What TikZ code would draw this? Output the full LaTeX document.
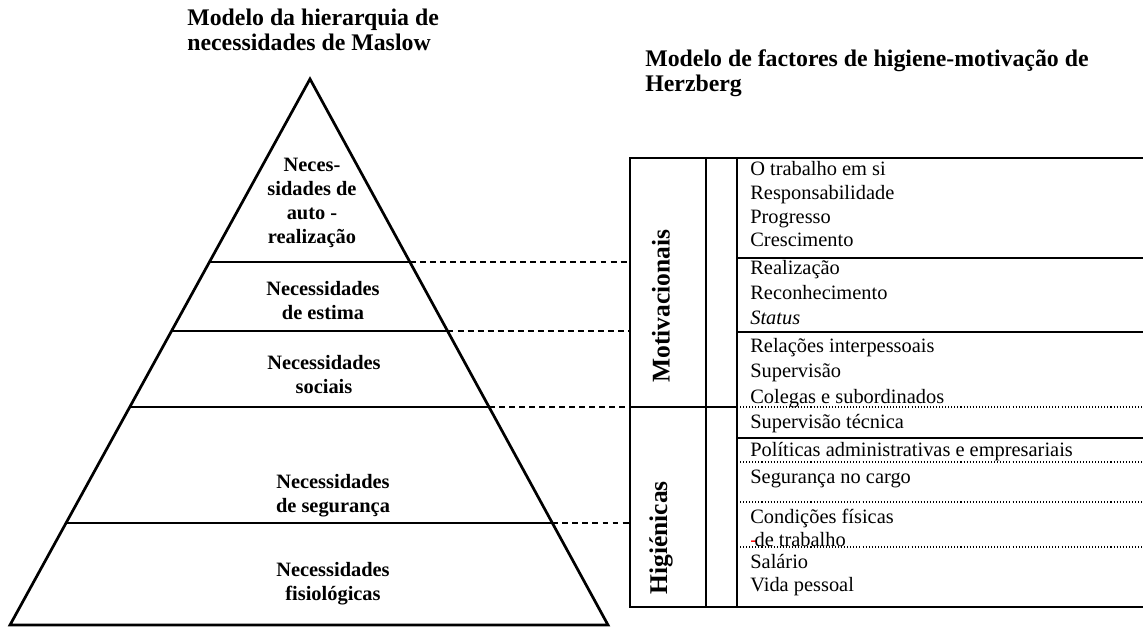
\documentclass[tikz,border=0pt]{standalone}
\usepackage{fontspec}
\setmainfont{Liberation Serif}
\usetikzlibrary{calc}

\newcommand*{\tabxl}{630}
\newcommand*{\tabxm}{706}
\newcommand*{\tabxi}{737}
\newcommand*{\tabxr}{1143}
\newcommand*{\tabyt}{158}
\newcommand*{\tabyb}{607}

\begin{document}
\begin{tikzpicture}[x=0.588pt,y=-0.588pt,
  every node/.style={inner sep=0pt,font=\fontsize{12}{14.1}\selectfont},
  title/.style={anchor=base west,align=left,font=\bfseries\fontsize{14}{14.7}\selectfont},
  level/.style={align=center,font=\bfseries\fontsize{12}{14.1}\selectfont},
  factor/.style={anchor=base west},
  side/.style={rotate=90,font=\bfseries\fontsize{15}{17}\selectfont},
  outline/.style={line width=1.6pt,line join=miter},
  layer/.style={line width=1.1pt},
  link/.style={line width=0.8pt,dash pattern=on 3.5pt off 2.4pt},
  frame/.style={line width=1.1pt},
  sep/.style={line width=0.6pt,dash pattern=on 0.6pt off 1.2pt}]

	\useasboundingbox (0,0) rectangle (1143,628);

	% titles
	\node[title] (maslow) at (187,51) {Modelo da hierarquia de\\necessidades de Maslow};
	\node[title] (herzberg) at (645,92) {Modelo de factores de higiene-motivação de\\Herzberg};

	% table
	\coordinate (tl) at (\tabxl,\tabyt);
	\draw[frame] (\tabxr,\tabyt) -- (tl) -- (\tabxl,\tabyb) -- (\tabxr,\tabyb);
	\draw[frame] (\tabxm,\tabyt) -- (\tabxm,\tabyb);
	\draw[frame] (\tabxi,\tabyt) -- (\tabxi,\tabyb);
	\foreach \yy in {258,332,438} \draw[frame] (\tabxi,\yy) -- (\tabxr,\yy);
	\draw[frame] (\tabxl,407) -- (\tabxi,407);
	\foreach \yy in {407,462,502,547} \draw[sep] (\tabxi,\yy) -- (\tabxr,\yy);

	\node[side] (motiv) at (661,306) {Motivacionais};
	\node[side] (higien) at (661,538) {Higiénicas};

	\foreach \yy/\txt [count=\i] in {176/O trabalho em si, 200/Responsabilidade, 224/Progresso,
	    247/Crescimento, 275/Realização, 300/Reconhecimento, 325/\textit{Status},
	    353/Relações interpessoais, 378/Supervisão, 403/Colegas e subordinados,
	    428/Supervisão técnica, 456/Políticas administrativas e empresariais,
	    483/Segurança no cargo, 523/Condições físicas,
	    546/{\textcolor{red}{-}\kern-1.5pt de trabalho}, 568/Salário, 591/Vida pessoal}
	  \node[factor] (f\i) at (750,\yy) {\txt};

	% pyramid
	\coordinate (apex) at (310,79);
	\coordinate (bl) at (10,625);
	\coordinate (br) at (608,625);
	\draw[outline] (apex) -- (br) -- (bl) -- cycle;

	\foreach \yy/\nm in {262/auto,331/estima,407/sociais,523/segur}{
	  \coordinate (\nm-l) at ($(apex)!{(\yy-79)/546}!(bl)$);
	  \coordinate (\nm-r) at ($(apex)!{(\yy-79)/546}!(br)$);
	  \draw[layer] (\nm-l) -- (\nm-r);
	  \draw[link] (\nm-r) -- (\nm-r -| tl);
	}

	\node[level] (n-auto) at (312,203) {Neces-\\sidades de\\auto -\\realização};
	\node[level] (n-estima) at (323,301) {Necessidades\\de estima};
	\node[level] (n-sociais) at (324,375) {Necessidades\\sociais};
	\node[level] (n-segur) at (333,496) {Necessidades\\de segurança};
	\node[level] (n-fisio) at (333,584) {Necessidades\\fisiológicas};

\end{tikzpicture}
\end{document}
